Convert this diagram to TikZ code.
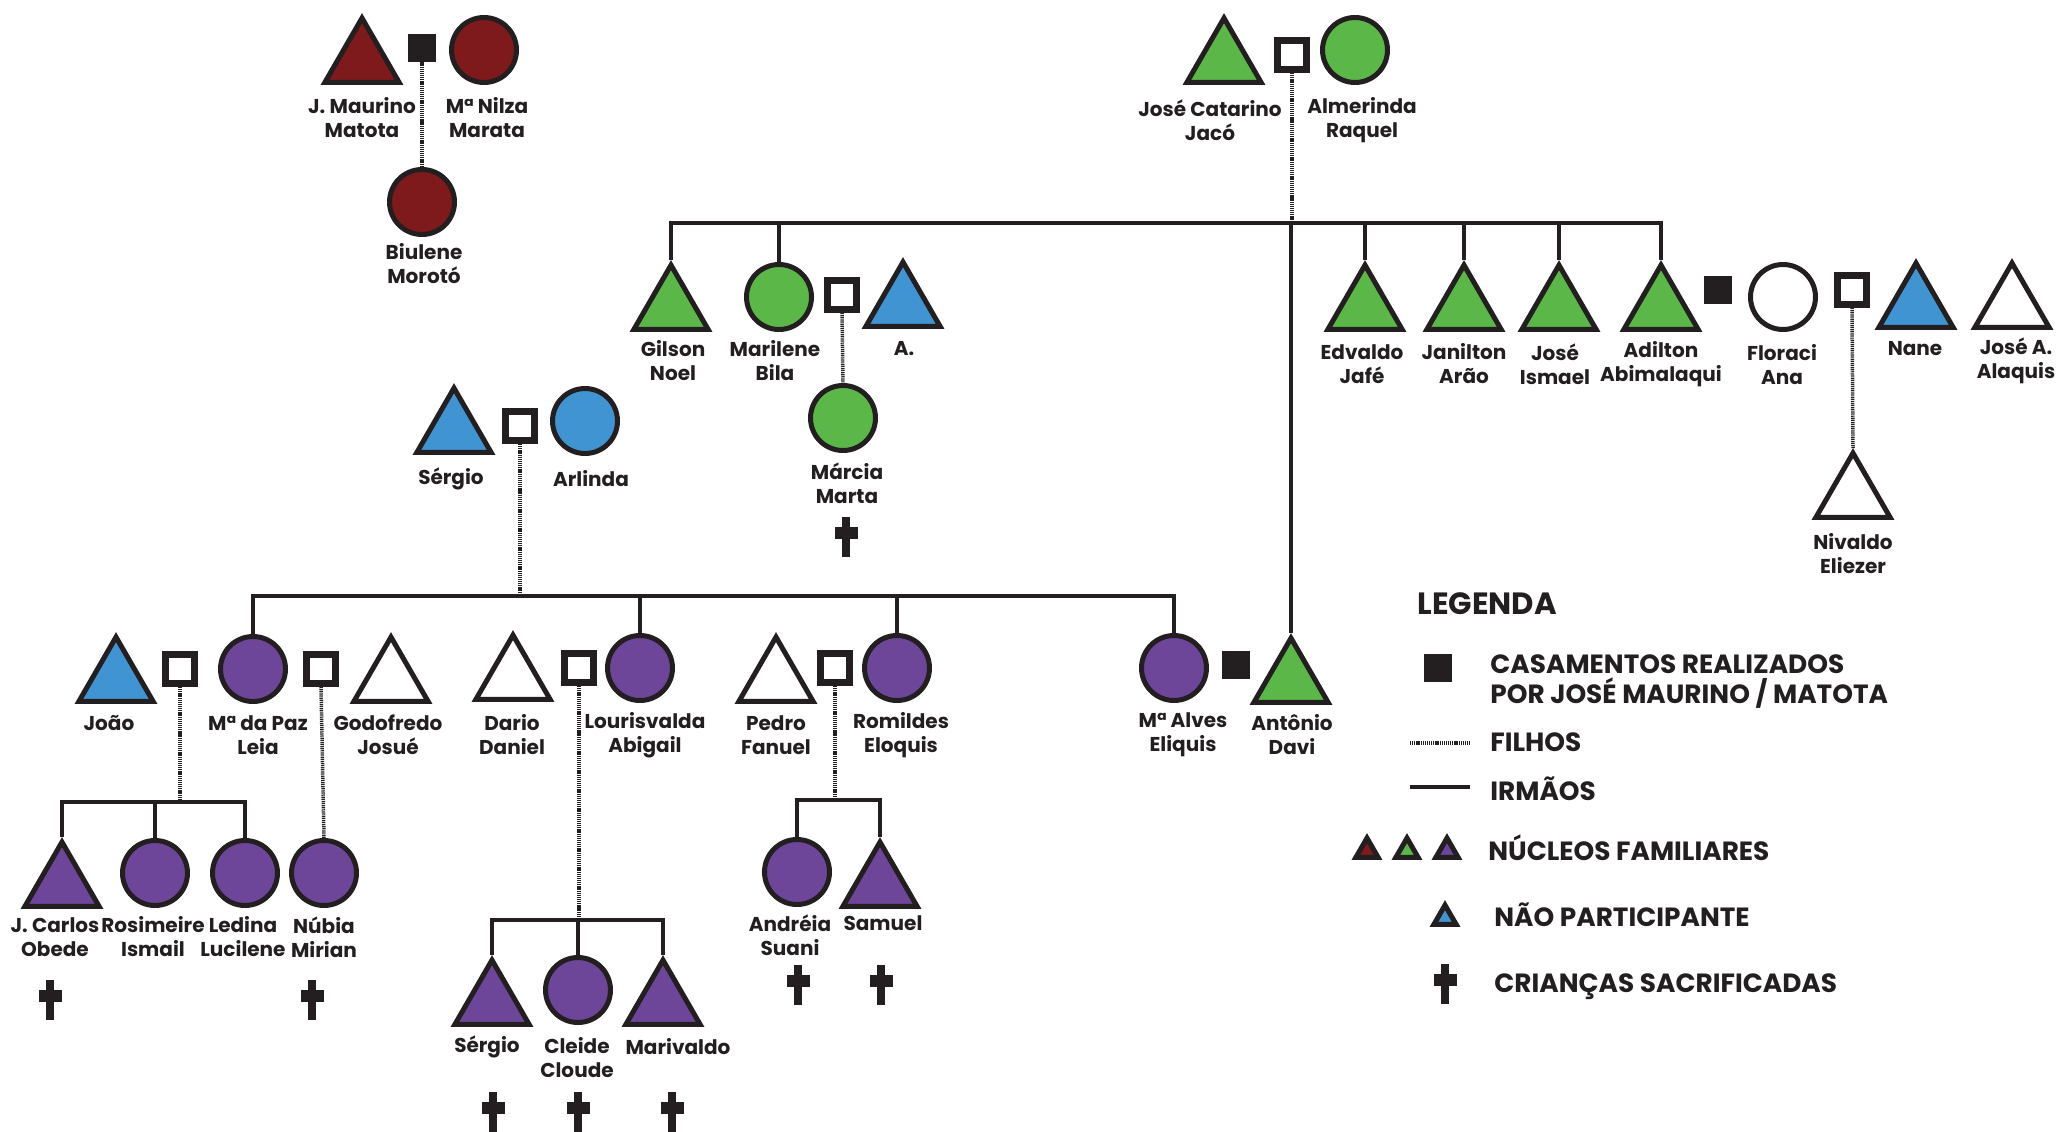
\documentclass[tikz,border=0pt]{standalone}
\usepackage{fontspec}
\setmainfont{Poppins}
\usepackage{xcolor}
\usetikzlibrary{shapes.geometric}

\definecolor{ink}{HTML}{231F20}
\definecolor{vermelho}{HTML}{7F1A1C}
\definecolor{verde}{HTML}{5BB848}
\definecolor{azul}{HTML}{3F94D1}
\definecolor{roxo}{HTML}{6D4699}

\tikzset{
  homem/.style={regular polygon, regular polygon sides=3, draw=ink, line width=0.1cm, minimum size=1.716cm, inner sep=0pt},
  mulher/.style={circle, draw=ink, line width=0.1cm, minimum size=1.3cm, inner sep=0pt},
  nucleo/.style={regular polygon, regular polygon sides=3, draw=ink, line width=0.1cm, minimum size=0.515cm, inner sep=0pt},
  casal/.style={rectangle, draw=ink, fill=white, line width=0.14cm, minimum size=0.58cm, inner sep=0pt},
  casalp/.style={rectangle, fill=ink, minimum size=0.56cm, inner sep=0pt},
  filho/.style={draw=ink, line width=0.07cm, dash pattern=on 0.7pt off 0.5pt},
  irmao/.style={draw=ink, line width=0.09cm},
  nome/.style={font=\fontsize{11.4}{13.7}\selectfont\bfseries, text=ink, align=center, inner sep=0pt},
  leg/.style={font=\fontsize{15}{17}\selectfont\bfseries, text=ink, align=left, anchor=west, inner sep=0pt},
  pics/cruz/.style={code={
    \fill[ink] (-3.7,-20) rectangle (3.7,20);
    \fill[ink] (-11.5,-10) rectangle (11.5,2);
  }}
}

\begin{document}
\begin{tikzpicture}[x=0.02cm, y=-0.02cm]
    \useasboundingbox (0,0) rectangle (2056,1132);

    \node[homem, fill=vermelho] (maurino) at (362,61) {};
    \node[casalp] (m-mn) at (422,48) {};
    \node[mulher, fill=vermelho] (nilza) at (484,50) {};
    \node[mulher, fill=vermelho] (biulene) at (422,202) {};

    \node[homem, fill=verde] (jcatarino) at (1224,61) {};
    \node[casal] (m-jc) at (1292,55) {};
    \node[mulher, fill=verde] (almerinda) at (1355,50) {};

    \node[homem, fill=verde] (gilson) at (671,308) {};
    \node[mulher, fill=verde] (marilene) at (779,297) {};
    \node[casal] (m-ma) at (842,295) {};
    \node[homem, fill=azul] (aa) at (903,305) {};
    \node[mulher, fill=verde] (marcia) at (843,418) {};

    \node[homem, fill=verde] (edvaldo) at (1365,308) {};
    \node[homem, fill=verde] (janilton) at (1464,308) {};
    \node[homem, fill=verde] (jismael) at (1559,308) {};
    \node[homem, fill=verde] (adilton) at (1661,308) {};
    \node[casalp] (m-af) at (1718,290) {};
    \node[mulher, fill=white] (floraci) at (1783,297) {};
    \node[casal] (m-fn) at (1852,290) {};
    \node[homem, fill=azul] (nane) at (1916,306) {};
    \node[homem, fill=white] (josea) at (2012,306) {};
    \node[homem, fill=white] (nivaldo) at (1853,496) {};

    \node[homem, fill=azul] (sergio) at (454,431) {};
    \node[casal] (m-sa) at (520,426) {};
    \node[mulher, fill=azul] (arlinda) at (585,421) {};

    \node[homem, fill=azul] (joao) at (116,680) {};
    \node[casal] (m-jm) at (180,669) {};
    \node[mulher, fill=roxo] (mpaz) at (253,669) {};
    \node[casal] (m-gm) at (321,669) {};
    \node[homem, fill=white] (godofredo) at (391,680) {};
    \node[homem, fill=white] (dario) at (513,678) {};
    \node[casal] (m-dl) at (579,668) {};
    \node[mulher, fill=roxo] (lourisvalda) at (640,668) {};
    \node[homem, fill=white] (pedro) at (776,680) {};
    \node[casal] (m-pr) at (835,668) {};
    \node[mulher, fill=roxo] (romildes) at (897,668) {};
    \node[mulher, fill=roxo] (malves) at (1174,668) {};
    \node[casalp] (m-aa) at (1236,665) {};
    \node[homem, fill=verde] (antonio) at (1291,681) {};

    \node[homem, fill=roxo] (jcarlos) at (62,885) {};
    \node[mulher, fill=roxo] (rosimeire) at (155,873) {};
    \node[mulher, fill=roxo] (ledina) at (245,873) {};
    \node[mulher, fill=roxo] (nubia) at (324,873) {};

    \node[homem, fill=roxo] (sergiob) at (492,1003) {};
    \node[mulher, fill=roxo] (cleide) at (578,990) {};
    \node[homem, fill=roxo] (marivaldo) at (663,1003) {};

    \node[mulher, fill=roxo] (andreia) at (797,872) {};
    \node[homem, fill=roxo] (samuel) at (880,885) {};

    \coordinate (b-jc) at (1292,223);
    \coordinate (b-sa) at (520,596);
    \coordinate (b-jm) at (180,802);
    \coordinate (b-dl) at (579,920);
    \coordinate (b-pr) at (835,800);

    \draw[filho] (m-mn.south) -- (biulene.north);
    \draw[filho] (m-jc.south) -- (b-jc);
    \draw[filho] (m-ma.south) -- (marcia.north);
    \draw[filho] (m-fn.south) -- (nivaldo.north);
    \draw[filho] (m-sa.south) -- (b-sa);
    \draw[filho] (m-jm.south) -- (b-jm);
    \draw[filho] (m-gm.south) -- (nubia.north);
    \draw[filho] (m-dl.south) -- (b-dl);
    \draw[filho] (m-pr.south) -- (b-pr);

    \draw[irmao] (gilson.north) |- (b-jc) -| (adilton.north);
    \draw[irmao] (marilene.north) -- (marilene.north |- b-jc);
    \draw[irmao] (edvaldo.north) -- (edvaldo.north |- b-jc);
    \draw[irmao] (janilton.north) -- (janilton.north |- b-jc);
    \draw[irmao] (jismael.north) -- (jismael.north |- b-jc);
    \draw[irmao] (antonio.north) -- (antonio.north |- b-jc);

    \draw[irmao] (mpaz.north) |- (b-sa) -| (malves.north);
    \draw[irmao] (lourisvalda.north) -- (lourisvalda.north |- b-sa);
    \draw[irmao] (romildes.north) -- (romildes.north |- b-sa);

    \draw[irmao] (jcarlos.north) |- (b-jm) -| (ledina.north);
    \draw[irmao] (rosimeire.north) -- (rosimeire.north |- b-jm);

    \draw[irmao] (sergiob.north) |- (b-dl) -| (marivaldo.north);
    \draw[irmao] (cleide.north) -- (cleide.north |- b-dl);

    \draw[irmao] (andreia.north) |- (b-pr) -| (samuel.north);

    \node[nome] (l-maurino) at (362,118) {J. Maurino\\Matota};
    \node[nome] (l-nilza) at (487,118) {Mª Nilza\\Marata};
    \node[nome] (l-biulene) at (424,264) {Biulene\\Morotó};
    \node[nome] (l-jcatarino) at (1210,120) {José Catarino\\Jacó};
    \node[nome] (l-almerinda) at (1362,120) {Almerinda\\Raquel};
    \node[nome] (l-gilson) at (673,361) {Gilson\\Noel};
    \node[nome] (l-marilene) at (775,361) {Marilene\\Bila};
    \node[nome] (l-aa) at (904,349) {A.};
    \node[nome] (l-marcia) at (847,483) {Márcia\\Marta};
    \node[nome] (l-edvaldo) at (1362,364) {Edvaldo\\Jafé};
    \node[nome] (l-janilton) at (1464,364) {Janilton\\Arão};
    \node[nome] (l-jismael) at (1555,364) {José\\Ismael};
    \node[nome] (l-adilton) at (1661,364) {Adilton\\Abimalaqui};
    \node[nome] (l-floraci) at (1782,365) {Floraci\\Ana};
    \node[nome] (l-nane) at (1915,349) {Nane};
    \node[nome] (l-josea) at (2016,361) {José A.\\Alaquis};
    \node[nome] (l-nivaldo) at (1853,554) {Nivaldo\\Eliezer};
    \node[nome] (l-sergio) at (451,479) {Sérgio};
    \node[nome] (l-arlinda) at (591,479) {Arlinda};
    \node[nome] (l-joao) at (109,723) {João};
    \node[nome] (l-mpaz) at (258,735) {Mª da Paz\\Leia};
    \node[nome] (l-godofredo) at (388,735) {Godofredo\\Josué};
    \node[nome] (l-dario) at (512,735) {Dario\\Daniel};
    \node[nome] (l-lourisvalda) at (645,735) {Lourisvalda\\Abigail};
    \node[nome] (l-pedro) at (776,735) {Pedro\\Fanuel};
    \node[nome] (l-romildes) at (901,735) {Romildes\\Eloquis};
    \node[nome] (l-malves) at (1183,735) {Mª Alves\\Eliquis};
    \node[nome] (l-antonio) at (1292,735) {Antônio\\Davi};
    \node[nome] (l-jcarlos) at (55,937) {J. Carlos\\Obede};
    \node[nome] (l-rosimeire) at (153,937) {Rosimeire\\Ismail};
    \node[nome] (l-ledina) at (243,937) {Ledina\\Lucilene};
    \node[nome] (l-nubia) at (324,937) {Núbia\\Mirian};
    \node[nome] (l-sergiob) at (487,1047) {Sérgio};
    \node[nome] (l-cleide) at (577,1058) {Cleide\\Cloude};
    \node[nome] (l-marivaldo) at (678,1047) {Marivaldo};
    \node[nome] (l-andreia) at (790,935) {Andréia\\Suani};
    \node[nome] (l-samuel) at (883,923) {Samuel};

    \pic at (50,1000) {cruz};
    \pic at (312,1000) {cruz};
    \pic at (846,537) {cruz};
    \pic at (493,1112) {cruz};
    \pic at (578,1112) {cruz};
    \pic at (672,1112) {cruz};
    \pic at (798,985) {cruz};
    \pic at (881,985) {cruz};

    \node[leg, font=\fontsize{17.5}{20}\selectfont\bfseries] (t-legenda) at (1417,604) {LEGENDA};
    \node[casalp] (leg-casal) at (1438,668) {};
    \node[leg] (t-casal) at (1490,682) {CASAMENTOS REALIZADOS\\POR JOSÉ MAURINO / MATOTA};
    \coordinate (f1) at (1410,743);
    \coordinate (f2) at (1471,743);
    \draw[filho] (f1) -- (f2);
    \node[leg] (t-filhos) at (1490,742) {FILHOS};
    \coordinate (i1) at (1410,787);
    \coordinate (i2) at (1470,787);
    \draw[irmao] (i1) -- (i2);
    \node[leg] (t-irmaos) at (1490,789) {IRMÃOS};
    \node[nucleo, fill=vermelho] (n1) at (1367,851) {};
    \node[nucleo, fill=verde] (n2) at (1407,851) {};
    \node[nucleo, fill=roxo] (n3) at (1447,851) {};
    \node[leg] (t-nucleos) at (1488,848) {NÚCLEOS FAMILIARES};
    \node[nucleo, fill=azul] (n4) at (1445,918) {};
    \node[leg] (t-nao) at (1494,915) {NÃO PARTICIPANTE};
    \pic at (1445,984) {cruz};
    \node[leg] (t-cruz) at (1494,987) {CRIANÇAS SACRIFICADAS};
\end{tikzpicture}
\end{document}
